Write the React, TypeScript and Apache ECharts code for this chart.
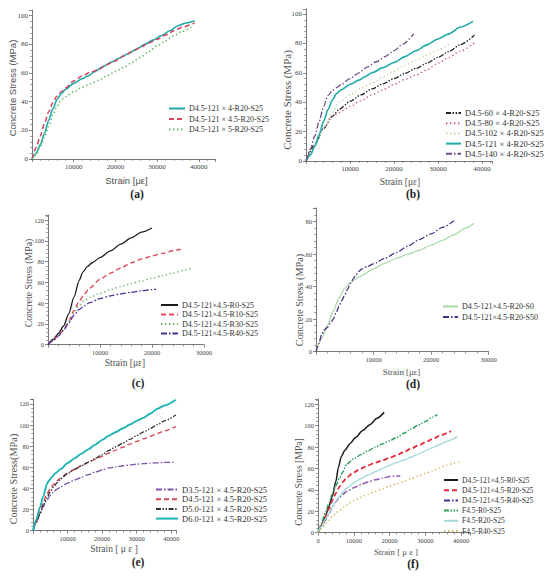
import React, { useEffect, useRef } from "react";
import * as echarts from "echarts";

type Pt = [number, number];

const SERIF = "'Liberation Serif', 'DejaVu Serif', serif";
const SANS = "'Liberation Sans', 'DejaVu Sans', sans-serif";

// ---------------- data: panel (a) ----------------
const A_NAMES = ["D4.5-121 × 4-R20-S25", "D4.5-121 × 4.5-R20-S25", "D4.5-121 × 5-R20-S25"];
const A_121x4: Pt[] = [[0,0],[1000,4],[2000,10],[3000,18],[4000,27],[5000,35],[6000,41.5],[7000,45.5],[8000,48.5],[10000,52.8],[12000,56],[13500,58],[15000,61],[17000,64.5],[19000,67.5],[21000,70.5],[23000,73.5],[25000,76.5],[27000,80],[29000,83],[31000,86],[33000,89.5],[35000,93],[37000,95],[39000,96.5]];
const A_121x45: Pt[] = [[0,0],[1000,8],[2000,16],[3000,25],[4000,33],[5000,39.5],[6000,44],[7000,47],[8000,49.5],[10000,54.5],[12000,58],[14000,60.5],[16000,62.5],[18000,66],[20000,68.5],[22000,72],[24000,75],[26000,78],[28000,81],[30000,83.5],[32000,86.5],[34000,89.5],[36000,92],[39000,95]];
const A_121x5: Pt[] = [[0,0],[1000,3],[2000,8.5],[3000,15],[4000,23],[5000,30.5],[6000,37],[7000,41],[8000,43.5],[10000,47],[12000,50],[14000,52.5],[16000,55],[18000,58],[20000,61],[22000,64],[24000,67.5],[26000,71],[28000,75],[30000,79],[32000,82.5],[34000,86],[36000,89],[38500,92.5]];

// ---------------- data: panel (b) ----------------
const B_NAMES = ["D4.5-60 × 4-R20-S25", "D4.5-80 × 4-R20-S25", "D4.5-102 × 4-R20-S25", "D4.5-121 × 4-R20-S25", "D4.5-140 × 4-R20-S25"];
const B_60: Pt[] = [[0,0],[2000,11],[4000,22],[6000,30.5],[7500,35],[10000,40.5],[12500,45],[15000,49],[17500,52.5],[20000,56],[22500,59.5],[25000,63],[27500,66.5],[30000,70.5],[32500,74.5],[35000,79],[38300,85.5]];
const B_80: Pt[] = [[0,0],[2000,11.5],[4000,23],[6000,30],[7500,33],[10000,37],[12500,41],[15000,45],[17500,48.5],[20000,52],[22500,55.5],[25000,58.5],[27500,62],[30000,66.5],[32500,70.5],[35000,74.5],[38300,80.5]];
const B_102: Pt[] = [[0,0],[2000,10],[4000,22],[6000,33],[7500,40],[10000,45],[12500,49.5],[15000,53],[17500,57],[20000,61],[22500,65],[25000,68.5],[27500,72],[30000,75.5],[32500,79.5]];
const B_121: Pt[] = [[0,0],[1000,4],[2000,10],[3000,18],[4000,27],[5000,35],[6000,41.5],[7000,46],[8000,48.5],[10000,52],[12000,55],[13500,57.5],[15000,60],[17500,63.5],[20000,67],[22500,71],[25000,75],[27500,79],[30000,83],[32500,86.5],[35000,91],[38000,95]];
const B_140: Pt[] = [[0,0],[1000,8],[2000,17],[3000,27],[4000,37],[5000,44.5],[6000,48],[7000,50],[8000,52],[10000,56],[12000,60],[14000,64],[16000,67.5],[18000,71],[20000,75],[22000,79.5],[24500,86.5]];

// ---------------- data: panel (c) ----------------
const C_NAMES = ["D4.5-121×4.5-R0-S25", "D4.5-121×4.5-R10-S25", "D4.5-121×4.5-R30-S25", "D4.5-121×4.5-R40-S25"];
const C_R0: Pt[] = [[0,0],[1000,5],[2000,11],[3000,18],[4000,30],[5000,46],[6000,62],[6700,70],[7500,75],[8500,79],[10000,84],[12000,90.5],[14000,97],[16000,103],[18000,108.5],[20000,112.5]];
const C_R10: Pt[] = [[0,0],[1000,4.5],[2000,9],[3000,14],[4000,23],[5000,33],[6000,42],[7000,49],[8000,54.5],[10000,63],[12000,69],[14000,74],[16000,79],[18000,82.5],[20000,85.5],[22000,88],[24000,90.5],[25500,92]];
const C_R30: Pt[] = [[0,0],[1000,4],[2000,9],[3000,14.5],[4000,22],[5000,31],[6000,38],[7000,42.5],[8000,45.5],[10000,49.5],[12000,53],[14000,56],[16000,59],[18000,61.5],[20000,64],[22000,66.5],[24000,69],[26000,71.5],[27500,73.5]];
const C_R40: Pt[] = [[0,0],[1000,4],[2000,8.5],[3000,14],[4000,21],[5000,28.5],[6000,34],[7000,37.5],[8000,40.5],[10000,44.5],[12000,47],[14000,49],[16000,50.5],[18000,52],[20000,53.2],[20800,53.6]];

// ---------------- data: panel (d) ----------------
const D_NAMES = ["D4.5-121×4.5-R20-S0", "D4.5-121×4.5-R20-S50"];
const D_S0: Pt[] = [[0,0],[1000,8],[2000,16.5],[3000,25],[4000,33],[5000,39],[6000,42.5],[7000,45],[8000,47],[10000,51],[12000,54.5],[14000,57.5],[16000,60],[18000,62.5],[20000,65.5],[22000,68.5],[24000,72],[26000,76],[27500,79]];
const D_S50: Pt[] = [[0,0],[500,5],[1000,11],[1500,13.5],[2000,15],[2500,17.5],[3000,20],[3500,24],[4000,28],[4500,31.5],[5000,35],[5500,38.5],[6000,42],[6500,45],[7000,47.5],[7500,49.5],[8000,51],[9000,52.5],[10000,54],[12000,57.5],[14000,61],[16000,65],[18000,69],[20000,72.5],[22000,76.5],[24000,80.5]];

// ---------------- data: panel (e) ----------------
const E_NAMES = ["D3.5-121 × 4.5-R20-S25", "D4.5-121 × 4.5-R20-S25", "D5.0-121 × 4.5-R20-S25", "D6.0-121 × 4.5-R20-S25"];
const E_D35: Pt[] = [[0,0],[1000,8],[2000,16],[3000,23],[4000,29],[5000,33.5],[6000,37],[7000,39.5],[8000,41.5],[10000,45],[12000,48],[14000,50.5],[16000,53],[18000,55.5],[20000,57.5],[22000,59.5],[24000,60.5],[26000,61.5],[28000,62.3],[30000,63],[32000,63.5],[34000,64],[36000,64.3],[38000,64.6],[41300,65]];
const E_D45: Pt[] = [[0,0],[1000,9],[2000,18],[3000,27],[4000,34.5],[5000,40],[6000,44],[7000,47.5],[8000,50],[10000,54.5],[12000,58],[14000,61.5],[16000,64.5],[18000,67.5],[20000,70.5],[22000,73.5],[24000,76.5],[26000,79],[28000,82],[30000,84.5],[32000,87],[34000,89.5],[36000,92],[38000,94.5],[41300,98.5]];
const E_D50: Pt[] = [[0,0],[1000,8],[2000,16],[3000,24],[4000,31],[5000,37],[6000,41.5],[7000,45.5],[8000,49],[10000,54],[12000,58],[14000,61.5],[16000,65],[18000,68.5],[20000,72],[22000,76],[24000,79.5],[26000,83],[28000,86.5],[30000,90],[32000,93.5],[34000,97],[36000,100.5],[38000,104],[41300,109.5]];
const E_D60: Pt[] = [[0,0],[1000,11],[2000,22],[3000,33],[4000,44],[4500,47],[5500,51],[6500,54.5],[8000,58.5],[10000,64],[12000,68.5],[14000,73],[16000,77],[18000,81.5],[20000,86],[22000,90],[24000,93.5],[26000,97],[28000,100.5],[30000,104],[32000,107],[34000,111],[36000,115.5],[38000,118.5],[41300,124]];

// ---------------- data: panel (f) ----------------
const F_NAMES = ["D4.5-121×4.5-R0-S25", "D4.5-121×4.5-R20-S25", "D4.5-121×4.5-R40-S25", "F4.5-R0-S25", "F4.5-R20-S25", "F4.5-R40-S25"];
const F_D_R0: Pt[] = [[0,0],[1000,7],[2000,15],[3000,24],[4000,34],[5000,48],[5700,61],[6500,71],[7500,77],[9000,83.5],[10500,89],[12500,95.5],[14500,101],[16500,107],[18500,112.5]];
const F_D_R20: Pt[] = [[0,0],[1000,7],[2000,14],[3000,22],[4000,30],[5000,37],[6000,43],[7000,47.5],[8000,51.5],[10000,56.5],[12000,60],[14000,63],[16000,65.5],[18000,67.5],[20000,70],[22000,72.5],[24000,75.5],[26000,78.5],[28000,81.5],[30000,84.5],[32000,87.5],[34000,90.5],[36000,93],[37200,95]];
const F_D_R40: Pt[] = [[0,0],[1000,5],[2000,11],[3000,17],[4000,24],[5000,29],[6000,33],[7000,36],[8000,38.5],[10000,42],[12000,45],[14000,47.5],[16000,49.5],[18000,51],[20000,52.5],[22000,53],[23000,53]];
const F_F_R0: Pt[] = [[0,0],[1000,9],[2000,18],[3000,27],[4000,36],[5000,44],[6000,51],[7000,57],[8000,64],[10000,69],[12000,73],[14000,76.5],[16000,80],[18000,83],[20000,86],[22000,89],[24000,93],[26000,97],[28000,100.5],[30000,104],[32000,108],[33400,110.5]];
const F_F_R20: Pt[] = [[0,0],[1000,6],[2000,12],[3000,18],[4000,24],[5000,29.5],[6000,34],[7000,38],[8000,41.5],[10000,46.5],[12000,50.5],[14000,54],[16000,57],[18000,60],[20000,63],[22000,65.5],[24000,68],[26000,70.5],[28000,73.5],[30000,76.5],[32000,79.5],[34000,82.5],[36000,85.5],[39000,90]];
const F_F_R40: Pt[] = [[0,0],[1000,4],[2000,8],[3000,11.5],[4000,15],[5000,18],[6000,21],[8000,26],[10000,30],[12000,33],[14000,36],[16000,38.5],[18000,41],[20000,43.5],[22000,45.5],[24000,48],[26000,50.5],[28000,53],[30000,55.5],[32000,58],[34000,60.5],[36000,63],[38000,65],[39800,66.5]];

// tick intervals / labels
const X_INTERVAL = 10000;
const Y_INTERVAL = 20;
const PANEL_LABELS = ["(a)", "(b)", "(c)", "(d)", "(e)", "(f)"];

// ---------------- styles ----------------
const SOLID = "solid";
const DASH = [5, 3];
const DOT = [1.4, 2.6];
const DASHDOT = [6, 2, 1.5, 2];
const DASHDOTDOT = [5, 1.6, 1.4, 1.6, 1.4, 1.6];

interface SDef { name: string; data: Pt[]; color: string; dash: any; width: number }
interface TDef { text: string; x: number; y: number; size: number }
interface PDef {
  grid: { left: number; top: number; width: number; height: number };
  xMax: number; yMax: number; xMinLabel: boolean; xMaxLabel: boolean;
  nameFont: string; yTitle: TDef; xTitle: TDef;
  tickSize: number;
  legend: { left: number; top: number; itemWidth: number; itemGap: number; fontSize: number };
  label: { x: number; y: number };
  series: SDef[];
}

const PANELS: PDef[] = [
  {
    grid: { left: 32, top: 10, width: 183.5, height: 149 }, xMax: 44000, yMax: 104, xMinLabel: false, xMaxLabel: false,
    nameFont: SANS,
    yTitle: { text: "Concrete Stress (MPa)", x: 12.5, y: 88, size: 9.5 },
    xTitle: { text: "Strain [με]", x: 126.5, y: 180, size: 9.5 },
    tickSize: 7,
    legend: { left: 168, top: 104.5, itemWidth: 16, itemGap: 2.5, fontSize: 8 },
    label: { x: 137, y: 194 },
    series: [
      { name: A_NAMES[0], data: A_121x4, color: "#1eaaaa", dash: SOLID, width: 1.6 },
      { name: A_NAMES[1], data: A_121x45, color: "#d6435a", dash: DASH, width: 1.5 },
      { name: A_NAMES[2], data: A_121x5, color: "#5cb85c", dash: DOT, width: 1.5 },
    ],
  },
  {
    grid: { left: 306, top: 9, width: 186, height: 152 }, xMax: 42300, yMax: 103.4, xMinLabel: false, xMaxLabel: false,
    nameFont: SERIF,
    yTitle: { text: "Concrete Stress (MPa)", x: 287, y: 100, size: 11 },
    xTitle: { text: "Strain [με]", x: 400, y: 181.5, size: 9.5 },
    tickSize: 7,
    legend: { left: 445, top: 108.5, itemWidth: 15, itemGap: 1.2, fontSize: 8.5 },
    label: { x: 413, y: 194 },
    series: [
      { name: B_NAMES[0], data: B_60, color: "#222222", dash: DASHDOTDOT, width: 1.3 },
      { name: B_NAMES[1], data: B_80, color: "#c45c78", dash: DOT, width: 1.3 },
      { name: B_NAMES[2], data: B_102, color: "#b8d89c", dash: DOT, width: 1.3 },
      { name: B_NAMES[3], data: B_121, color: "#1eaaaa", dash: SOLID, width: 1.6 },
      { name: B_NAMES[4], data: B_140, color: "#6e4f86", dash: DASHDOT, width: 1.3 },
    ],
  },
  {
    grid: { left: 48, top: 215, width: 156, height: 129.7 }, xMax: 30000, yMax: 125, xMinLabel: false, xMaxLabel: true,
    nameFont: SERIF,
    yTitle: { text: "Concrete Stress (MPa)", x: 28, y: 283, size: 9.8 },
    xTitle: { text: "Strain [με]", x: 125, y: 362.5, size: 9.5 },
    tickSize: 6.5,
    legend: { left: 160, top: 301, itemWidth: 17, itemGap: 1.5, fontSize: 8 },
    label: { x: 138, y: 383 },
    series: [
      { name: C_NAMES[0], data: C_R0, color: "#1c1c1c", dash: SOLID, width: 1.3 },
      { name: C_NAMES[1], data: C_R10, color: "#e0485a", dash: DASH, width: 1.4 },
      { name: C_NAMES[2], data: C_R30, color: "#6cb06c", dash: DOT, width: 1.4 },
      { name: C_NAMES[3], data: C_R40, color: "#4a2c98", dash: DASHDOT, width: 1.3 },
    ],
  },
  {
    grid: { left: 316, top: 208, width: 172.5, height: 143.7 }, xMax: 30000, yMax: 88.4, xMinLabel: false, xMaxLabel: true,
    nameFont: SERIF,
    yTitle: { text: "Concrete Stress (MPa)", x: 299.5, y: 300, size: 10.2 },
    xTitle: { text: "Strain [με]", x: 401.5, y: 371.5, size: 8.8 },
    tickSize: 6.5,
    legend: { left: 442, top: 302.5, itemWidth: 15, itemGap: 2.5, fontSize: 8 },
    label: { x: 413, y: 384 },
    series: [
      { name: D_NAMES[0], data: D_S0, color: "#a6d8a6", dash: SOLID, width: 1.2 },
      { name: D_NAMES[1], data: D_S50, color: "#4a3080", dash: DASHDOT, width: 1.3 },
    ],
  },
  {
    grid: { left: 33, top: 399, width: 143.5, height: 131.7 }, xMax: 41500, yMax: 124.7, xMinLabel: false, xMaxLabel: false,
    nameFont: SERIF,
    yTitle: { text: "Concrete Stress(MPa)", x: 13, y: 479, size: 10.3 },
    xTitle: { text: "Strain [ μ ε ]", x: 114, y: 549.3, size: 9.5 },
    tickSize: 6.5,
    legend: { left: 155, top: 485, itemWidth: 22, itemGap: 0.7, fontSize: 8.5 },
    label: { x: 138, y: 562 },
    series: [
      { name: E_NAMES[0], data: E_D35, color: "#7a52a8", dash: DASHDOT, width: 1.3 },
      { name: E_NAMES[1], data: E_D45, color: "#d84858", dash: DASH, width: 1.4 },
      { name: E_NAMES[2], data: E_D50, color: "#303030", dash: DASHDOTDOT, width: 1.3 },
      { name: E_NAMES[3], data: E_D60, color: "#1eb4b4", dash: SOLID, width: 1.9 },
    ],
  },
  {
    grid: { left: 318, top: 399, width: 152, height: 133.7 }, xMax: 42500, yMax: 125, xMinLabel: true, xMaxLabel: false,
    nameFont: SERIF,
    yTitle: { text: "Concrete Stress [MPa]", x: 298, y: 482, size: 9.7 },
    xTitle: { text: "Strain [ μ ε ]", x: 396, y: 552.3, size: 8.8 },
    tickSize: 6.5,
    legend: { left: 443, top: 476, itemWidth: 14, itemGap: 2.2, fontSize: 7.5 },
    label: { x: 413, y: 564 },
    series: [
      { name: F_NAMES[0], data: F_D_R0, color: "#1c1c1c", dash: SOLID, width: 1.5 },
      { name: F_NAMES[1], data: F_D_R20, color: "#e8283a", dash: DASH, width: 1.8 },
      { name: F_NAMES[2], data: F_D_R40, color: "#9058b0", dash: DASHDOT, width: 1.5 },
      { name: F_NAMES[3], data: F_F_R0, color: "#2a9a5a", dash: DASHDOTDOT, width: 1.4 },
      { name: F_NAMES[4], data: F_F_R20, color: "#a6dada", dash: SOLID, width: 1.4 },
      { name: F_NAMES[5], data: F_F_R40, color: "#d8b860", dash: DOT, width: 1.5 },
    ],
  },
];

const AXIS_COLOR = "#555";
const LABEL_COLOR = "#444";
const TITLE_COLOR = "#505050";

function buildOption(): any {
  const grid: any[] = [];
  const xAxis: any[] = [];
  const yAxis: any[] = [];
  const series: any[] = [];
  const legend: any[] = [];
  const graphic: any[] = [];

  PANELS.forEach((p, i) => {
    grid.push({ ...p.grid, containLabel: false });
    const common = {
      gridIndex: i,
      type: "value",
      min: 0,
      axisLine: { show: true, onZero: false, lineStyle: { color: AXIS_COLOR, width: 0.8 } },
      axisTick: { show: true, length: 3, lineStyle: { color: AXIS_COLOR, width: 0.7 } },
      minorTick: { show: true, splitNumber: 5, length: 1.8, lineStyle: { color: AXIS_COLOR, width: 0.6 } },
      splitLine: { show: false },
    };
    xAxis.push({
      ...common,
      max: p.xMax,
      interval: X_INTERVAL,
      axisLabel: {
        fontFamily: SERIF, fontSize: p.tickSize, color: LABEL_COLOR, margin: 4,
        showMinLabel: p.xMinLabel, showMaxLabel: p.xMaxLabel,
        formatter: (v: number) => String(v),
      },
    });
    yAxis.push({
      ...common,
      max: p.yMax,
      interval: Y_INTERVAL,
      axisLabel: {
        fontFamily: SERIF, fontSize: p.tickSize, color: LABEL_COLOR, margin: 4,
        showMaxLabel: false, showMinLabel: true,
        formatter: (v: number) => String(v),
      },
    });
    p.series.forEach((s) => {
      series.push({
        type: "line",
        name: s.name,
        xAxisIndex: i,
        yAxisIndex: i,
        data: s.data,
        symbol: "none",
        showSymbol: false,
        smooth: 0.25,
        smoothMonotone: "x",
        clip: false,
        color: s.color,
        lineStyle: { color: s.color, width: s.width, type: s.dash, cap: "butt" },
        z: 3,
      });
    });
    legend.push({
      orient: "vertical",
      left: p.legend.left,
      top: p.legend.top,
      itemWidth: p.legend.itemWidth,
      itemHeight: 8,
      itemGap: p.legend.itemGap,
      padding: 0,
      selectedMode: false,
      data: p.series.map((s) => s.name),
      itemStyle: { opacity: 0 },
      textStyle: { fontFamily: SERIF, fontSize: p.legend.fontSize, color: "#333", padding: [0, 0, 0, -1] },
    });
    // axis titles
    graphic.push({
      type: "text",
      x: p.yTitle.x,
      y: p.yTitle.y,
      rotation: Math.PI / 2,
      style: {
        text: p.yTitle.text, fontFamily: p.nameFont, fontSize: p.yTitle.size, fontWeight: "normal",
        fill: TITLE_COLOR, align: "center", verticalAlign: "middle",
      },
    });
    graphic.push({
      type: "text",
      x: p.xTitle.x,
      y: p.xTitle.y,
      style: {
        text: p.xTitle.text, fontFamily: p.nameFont, fontSize: p.xTitle.size, fontWeight: "normal",
        fill: TITLE_COLOR, align: "center", verticalAlign: "middle",
      },
    });
    graphic.push({
      type: "text",
      x: p.label.x,
      y: p.label.y,
      style: {
        text: PANEL_LABELS[i], fontFamily: SERIF, fontSize: 11.5, fontWeight: "bold", fill: "#222",
        align: "center", verticalAlign: "middle",
      },
    });
  });

  return {
    animation: false,
    backgroundColor: "#fff",
    textStyle: { fontFamily: SERIF, fontWeight: "normal" },
    grid, xAxis, yAxis, series, legend, graphic,
  };
}

export default function App() {
  const ref = useRef<HTMLDivElement>(null);
  useEffect(() => {
    const chart = echarts.init(ref.current!, null, { renderer: "svg" });
    chart.setOption(buildOption());
    return () => chart.dispose();
  }, []);
  return (
    <div
      ref={ref}
      style={{ position: "fixed", left: 0, top: 0, width: 550, height: 577, background: "#fff" }}
    />
  );
}
